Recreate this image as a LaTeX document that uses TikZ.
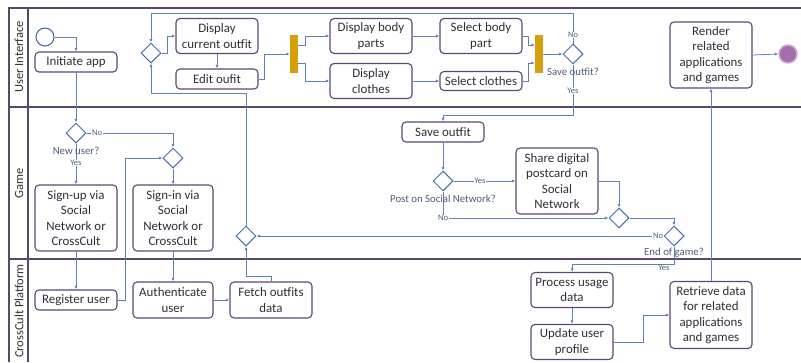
\documentclass[tikz,border=0pt]{standalone}
\usepackage{fontspec}
\setmainfont{Carlito}
\usetikzlibrary{shapes.geometric, arrows.meta}
\definecolor{boxpurple}{RGB}{92,70,116}
\definecolor{lanepurple}{RGB}{88,72,110}
\definecolor{gateblue}{RGB}{72,108,166}
\definecolor{flowblue}{RGB}{96,128,180}
\definecolor{baryellow}{RGB}{212,160,12}
\definecolor{endpurple}{RGB}{166,110,172}
\definecolor{endring}{RGB}{205,170,210}
\definecolor{textgrey}{RGB}{48,46,58}
\definecolor{labelgrey}{RGB}{78,92,120}

\begin{document}
\begin{tikzpicture}[x=1pt, y=-1pt,
  task/.style={draw=boxpurple, line width=1.1pt, rounded corners=4pt, fill=white,
    align=center, minimum width=82, inner sep=1pt, text=textgrey,
    font=\fontsize{12.9}{15.3}\selectfont},
  gate/.style={diamond, draw=gateblue, line width=1pt, fill=white,
    minimum width=20, minimum height=20, inner sep=0pt},
  bar/.style={fill=baryellow, minimum width=8, minimum height=38, inner sep=0pt},
  flow/.style={draw=flowblue, line width=0.8pt, -{Latex[length=3.5pt,width=3pt]}},
  lane/.style={draw=lanepurple, line width=1.3pt},
  gatelabel/.style={text=labelgrey, font=\fontsize{10.8}{12}\selectfont, inner sep=0pt},
  answer/.style={text=labelgrey, font=\fontsize{8.5}{10}\selectfont, fill=white, inner sep=0.6pt},
  lanename/.style={rotate=90, text=textgrey, font=\fontsize{12.5}{14}\selectfont}]
  \useasboundingbox (0,0) rectangle (801,362);

  % lanes
  \draw[lane] (801,8) -- (9,8) -- (9,362);
  \draw[lane] (28,8) -- (28,362);
  \draw[lane] (9,107) -- (801,107);
  \draw[lane] (9,259) -- (801,259);
  \node[lanename] (laneui) at (19,57) {User Interface};
  \node[lanename] (lanegame) at (19,183) {Game};
  \node[lanename] (laneplat) at (19,311) {CrossCult Platform};

  % user interface
  \node[circle, draw=gateblue, line width=1.1pt, minimum size=18, inner sep=0pt] (start) at (45,37) {};
  \node[task, minimum height=20] (init) at (76,62) {Initiate app};
  \node[gate] (dloop) at (151,53) {};
  \node[task, minimum height=35] (curout) at (217,36) {Display\\current outfit};
  \node[task, minimum height=20] (edit) at (217,79) {Edit oufit};
  \node[bar] (fork) at (294,54) {};
  \node[task, minimum height=35] (bodyparts) at (371,36) {Display body\\parts};
  \node[task, minimum height=35] (clothes) at (371,81) {Display\\clothes};
  \node[task, minimum height=35] (selbody) at (481,36) {Select body\\part};
  \node[task, minimum height=19] (selclothes) at (481,81) {Select clothes};
  \node[bar] (join) at (539,54) {};
  \node[gate] (dsave) at (573,54) {};
  \node[task, minimum height=66] (render) at (711,55) {Render\\related\\applications\\and games};
  \node[circle, fill=endpurple, draw=endring, line width=1.5pt, minimum size=18, inner sep=0pt] (endc) at (788,54) {};

  % game
  \node[gate] (dnew) at (76,133) {};
  \node[gate] (dsign) at (173,158) {};
  \node[task, minimum height=66] (signup) at (76,218) {Sign-up via\\Social\\Network or\\CrossCult};
  \node[task, minimum height=66, minimum width=80] (signin) at (173,218) {Sign-in via\\Social\\Network or\\CrossCult};
  \node[gate] (dmerge) at (246,236) {};
  \node[task, minimum height=20] (saveout) at (443,132) {Save outfit};
  \node[gate] (dpost) at (443,181) {};
  \node[task, minimum height=66] (share) at (557,181) {Share digital\\postcard on\\Social\\Network};
  \node[gate] (dmerge2) at (619,218) {};
  \node[gate] (dend) at (674,236) {};

  % platform
  \node[task, minimum height=20] (register) at (76,300) {Register user};
  \node[task, minimum height=36, minimum width=80] (auth) at (173,300) {Authenticate\\user};
  \node[task, minimum height=36] (fetch) at (271,300) {Fetch outfits\\data};
  \node[task, minimum height=35] (process) at (572,290) {Process usage\\data};
  \node[task, minimum height=35] (update) at (572,342) {Update user\\profile};
  \node[task, minimum height=67] (retrieve) at (711,315) {Retrieve data\\for related\\applications\\and games};

  \coordinate (loopback) at (246,93);
  \coordinate (savetop) at (573,13);
  \coordinate (savebottom) at (573,115);

  % flows
  \draw[flow] (start.east) -| (init.north);
  \draw[flow] (init.south) -- (dnew.north);
  \draw[flow] (dnew.south) -- (signup.north);
  \draw[flow] (dnew.east) -| (dsign.north);
  \draw[flow] (dsign.south) -- (signin.north);
  \draw[flow] (signup.south) -- (register.north);
  \draw[flow] (register.east) -- ++(8,0) |- (dsign.west);
  \draw[flow] (signin.south) -- (auth.north);
  \draw[flow] (auth.east) -- (fetch.west);
  \draw[flow] (fetch.north) -- ++(0,-5) -| (dmerge.south);
  \draw[flow] (dend.west) -- (dmerge.east);
  \draw[flow] (dmerge.north) -- (loopback) -| (dloop.south);
  \draw[flow] (dloop.east) -- ++(6,0) |- (curout.west);
  \draw[flow] (curout.south) -- (edit.north);
  \draw[flow] (edit.east) -- ++(6,0) |- (fork.west);
  \draw[flow] ([yshift=9]fork.east) -- ++(7,0) |- (bodyparts.west);
  \draw[flow] ([yshift=-9]fork.east) -- ++(7,0) |- (clothes.west);
  \draw[flow] (bodyparts.east) -- (selbody.west);
  \draw[flow] (clothes.east) -- (selclothes.west);
  \draw[flow] (selbody.east) -- ++(6,0) |- ([yshift=9]join.west);
  \draw[flow] (selclothes.east) -- ++(6,0) |- ([yshift=-9]join.west);
  \draw[flow] (join.east) -- (dsave.west);
  \draw[flow] (dsave.north) -- (savetop) -| (dloop.north);
  \draw[flow] (dsave.south) -- (savebottom) -| (saveout.north);
  \draw[flow] (saveout.south) -- (dpost.north);
  \draw[flow] (dpost.east) -- (share.west);
  \draw[flow] (dpost.south) |- (dmerge2.west);
  \draw[flow] (share.east) -| (dmerge2.north);
  \draw[flow] (dmerge2.east) -| (dend.north);
  \draw[flow] (dend.south) -- ++(0,18) -| (process.north);
  \draw[flow] (process.south) -- (update.north);
  \draw[flow] (update.east) -- ++(30,0) |- (retrieve.west);
  \draw[flow] (retrieve.north) -- (render.south);
  \draw[flow] (render.east) -- (endc.west);

  % gateway texts
  \node[gatelabel] (newq) at (76,151) {New user?};
  \node[answer] (newyes) at (76,163) {Yes};
  \node[answer] (newno) at (97,133) {No};
  \node[gatelabel] (saveq) at (573,72) {Save outfit?};
  \node[answer] (saveno) at (573,35) {No};
  \node[answer] (saveyes) at (573,91) {Yes};
  \node[gatelabel] (postq) at (443,199) {Post on Social Network?};
  \node[answer] (postyes) at (480,181) {Yes};
  \node[answer] (postno) at (443,218) {No};
  \node[gatelabel] (endq) at (674,253) {End of game?};
  \node[answer] (endno) at (658,236) {No};
  \node[answer] (endyes) at (664,268) {Yes};
\end{tikzpicture}
\end{document}
